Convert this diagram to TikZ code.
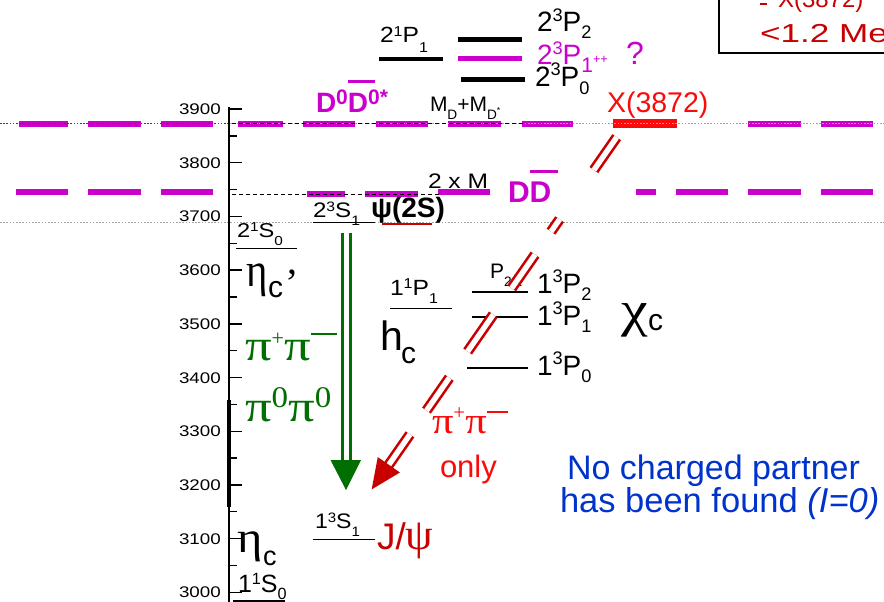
\documentclass[tikz,border=0pt]{standalone}
\usepackage{fontspec}
\setmainfont{Liberation Sans}
\newfontfamily\grk{Liberation Serif}
\usepackage{graphicx}
\usetikzlibrary{calc}
\definecolor{mag}{RGB}{204,0,204}
\definecolor{dgreen}{RGB}{0,110,0}
\definecolor{bred}{RGB}{250,10,10}
\definecolor{dred}{RGB}{200,0,0}
\definecolor{nblue}{RGB}{0,51,204}
\newcommand\myfs[1]{\fontsize{#1}{#1}\selectfont}
\newcommand\sx[2]{\scalebox{#1}[1]{#2}}
\newcommand\su[2][0.3em]{\raisebox{#1}{\scalebox{0.65}{#2}}}
\newcommand\sd[2][-0.45em]{\raisebox{#1}{\scalebox{0.65}{#2}}}
\newcommand\oD[1][1.0em]{\rlap{\raisebox{#1}{\rule{0.95em}{0.1em}}}D}
\begin{document}
\begin{tikzpicture}[x=1pt,y=-1pt,
  lab/.style={anchor=base west,inner sep=0pt,outer sep=0pt},
  magdash/.style={mag,line width=6pt},
  dotl/.style={gray!70,line width=0.9pt,dash pattern=on 1.6pt off 1.6pt},
  dashl/.style={black,line width=0.8pt,dash pattern=on 4pt off 3pt},
  rdbl/.style={draw=dred,double=white,line width=2.6pt,double distance=5.4pt},
  gdbl/.style={draw=dgreen,double=white,line width=3pt,double distance=5pt}]
\useasboundingbox (0,0) rectangle (884,602);
\clip (0,0) rectangle (884,602);
\fill[white] (0,0) rectangle (884,602);

% magenta thresholds
\foreach \a/\b in {19/68,88/141,161/213,238/283,303/355,376/428,448/501,522/573,748/801,821/873}
  \draw[magdash] (\a,123.5) -- (\b,123.5);
\foreach \a/\b in {16/68,88/141,161/213,438/490,636/656,676/728,748/801,821/873}
  \draw[magdash] (\a,192) -- (\b,192);
\foreach \a/\b in {307/345,365/418}
  \draw[magdash] (\a,194) -- (\b,194);
\coordinate (xbl) at (613,123.5);
\coordinate (xbr) at (677,123.5);
\draw[bred,line width=9pt] (xbl) -- (xbr);

% reference lines
\draw[dotl] (0,123) -- (884,123);
\draw[dotl,black!75] (0,123) -- (229,123);
\draw[dashl] (232,123) -- (525,123);
\draw[dashl] (232,194) -- (440,194);
\draw[dotl] (0,222) -- (884,222);

% axis
\draw[line width=1.4pt] (229,107) -- (229,602);
\draw[line width=3.5pt] (229,400) -- (229,507);
\foreach \m in {3000,3100,...,3900}{
  \pgfmathsetmacro\yy{109+(3900-\m)*0.537}
  \draw[line width=1.4pt] (229,\yy) -- (242,\yy);
  \node[anchor=base east,inner sep=0pt] (t\m) at (221,\yy+5.5) {\myfs{15.4}\sx{1.22}{\m}};
}
\foreach \m in {3050,3150,...,3850}{
  \pgfmathsetmacro\yy{109+(3900-\m)*0.537}
  \draw[line width=1.4pt] (229,\yy) -- (237,\yy);
}

% 2P levels
\node[lab] (n21p1) at (380,43) {\myfs{22}\sx{1.12}{2\su[0.28em]{1}P\sd{1}}};
\draw[line width=4.5pt] (379,59) -- (443,59);
\draw[line width=5pt] (458,40) -- (522,40);
\draw[mag,line width=5pt] (458,59) -- (522,59);
\draw[line width=5pt] (461,80) -- (525,80);
\node[lab] (p2) at (537,32) {\myfs{28}2\su[0.38em]{3}P\sd[-0.22em]{2}};
\node[lab,mag] (p1) at (537,65) {\myfs{28}2\su[0.38em]{3}P\raisebox{-0.26em}{\scalebox{0.75}{1}}\raisebox{0.05em}{\scalebox{0.45}{++}}};
\node[lab,mag] (pq) at (626,65) {\myfs{32}?};
\node[lab] (p0) at (535,86) {\myfs{28}2\su[0.38em]{3}P\sd[-0.3em]{0}};

\node[lab,bred] (x3872) at (607,112) {\myfs{28.5}X(3872)};
\node[lab] (mdd) at (430,111) {\myfs{21}M\sd[-0.4em]{D}+M\sd[-0.4em]{D\su[0.4em]{*}}};
\node[lab,mag] (dd0) at (316,113) {\myfs{28}\bfseries D\raisebox{0.3em}{\scalebox{0.75}{0}}\oD[1.07em]\raisebox{0.3em}{\scalebox{0.75}{0*}}};
\node[lab] (twom) at (428,188) {\myfs{21}\sx{1.17}{2 x M}};
\node[lab,mag] (ddbar) at (508,202) {\myfs{30}\bfseries D\oD[0.97em]};

% 2S
\node[lab] (s231) at (313,217) {\myfs{21}\sx{1.15}{2\su[0.28em]{3}S\sd[-0.4em]{1}}};
\draw[line width=1pt] (313,222) -- (375,222);
\node[lab] (psi2s) at (371,217) {\myfs{28}\bfseries ψ(2S)};
\draw[dred,line width=2pt] (382,223.5) -- (432,223.5);
\node[lab] (s210) at (237,237) {\myfs{20}\sx{1.18}{2\su[0.28em]{1}S\sd[-0.4em]{0}}};
\draw[line width=1pt] (236,248) -- (297,248);
\node[lab] (etacp) at (246,286) {\grk\myfs{48}\sx{0.85}{η}};
\node[lab] (etacpc) at (268,297) {\myfs{30}c};
\node[anchor=north west,inner sep=0pt] (etacpp) at (285,270) {\grk\myfs{40}’};

% green transitions
\node[lab,dgreen] (pipmg) at (245,360) {\grk\myfs{44}\sx{1.2}{π}\raisebox{15pt}{\myfs{22}+}\sx{1.2}{π}\rule[25pt]{26pt}{2.5pt}};
\node[lab,dgreen] (pi00) at (245,421) {\grk\myfs{44}\sx{1.2}{π}\raisebox{14pt}{\myfs{30}\sx{1.1}{0}}\sx{1.2}{π}\raisebox{14pt}{\myfs{30}\sx{1.1}{0}}};
\coordinate (gs) at (346,233);
\coordinate (gt) at (346,490);
\draw[gdbl] (gs) -- ($(gt)+(0,-28)$);
\fill[dgreen] (gt) -- ($(gt)+(-15.5,-30)$) -- ($(gt)+(15,-30)$) -- cycle;

% 1P
\node[lab] (p111) at (390,295) {\myfs{22}\sx{1.12}{1\su[0.28em]{1}P\sd[-0.4em]{1}}};
\draw[line width=1pt] (390,308) -- (452,308);
\node[lab] (hc) at (380,350) {\myfs{41}h};
\node[lab] (hcc) at (401,363) {\myfs{30}c};
\draw[line width=2pt] (472,292) -- (528,292);
\draw[line width=2pt] (472,317) -- (528,317);
\draw[line width=1.3pt] (467,368) -- (528,368);
\node[lab] (p132) at (537,293) {\myfs{28}1\su[0.38em]{3}P\sd[-0.25em]{2}};
\node[lab] (p131) at (537,325) {\myfs{28}1\su[0.38em]{3}P\sd[-0.25em]{1}};
\node[lab] (p130) at (537,375) {\myfs{28}1\su[0.38em]{3}P\sd[-0.25em]{0}};
\node[lab] (pfrag) at (490,278) {\myfs{21}P\sd[-0.4em]{2}\hspace{3pt}\sd[-0.4em]{1}};
\node[lab] (chic) at (621,326) {\grk\myfs{50}\sx{1.2}{χ}};
\node[lab] (chicc) at (648,330) {\myfs{30}c};

% red transition
\coordinate (xs) at (616.7,137.2);
\coordinate (xt) at (371.7,489.4);
\foreach \a/\b in {0/0.0932,0.2331/0.2681,0.3333/0.4289,0.5035/0.6084,0.6830/0.7762,0.8438/0.9371}
  \draw[rdbl] ($(xs)!\a!(xt)$) -- ($(xs)!\b!(xt)$);
\fill[dred] (xt) -- ($(xt)!32.9pt!24.2:(xs)$) -- ($(xt)!32.9pt!-24.2:(xs)$) -- cycle;
\node[lab,bred] (pipmr) at (432,433) {\grk\myfs{37}\sx{1.15}{π}\raisebox{14pt}{\myfs{21}+}\sx{1.15}{π}\rule[20pt]{21pt}{2pt}};
\node[lab,bred] (only) at (440,477) {\myfs{31}only};

% 1S
\node[lab] (s131) at (315,528) {\myfs{21}\sx{1.1}{1\su[0.28em]{3}S\sd[-0.4em]{1}}};
\draw[line width=1pt] (313,539) -- (375,539);
\node[lab,dred] (jpsi) at (377,549) {\myfs{37}J/{\grk\myfs{44}ψ}};
\node[lab] (etac) at (237,552) {\grk\myfs{44}\sx{1.1}{η}};
\node[lab] (etacc) at (263,565) {\myfs{27}c};
\node[lab] (s110) at (238,592) {\myfs{25}1\su[0.3em]{1}S\sd[-0.3em]{0}};
\draw[line width=1.2pt] (233,601) -- (285,601);

% note
\node[lab,nblue] (nc1) at (567,479) {\myfs{34}No charged partner};
\node[lab,nblue] (nc2) at (560,512) {\myfs{34.5}has been found \textit{(I=0)}};

% box top right
\draw[line width=1.5pt] (719,-5) -- (719,53) -- (890,53);
\node[lab,dred] (boxx) at (778,8) {\myfs{24}X(3872)};
\draw[dred,line width=2pt] (760,4) -- (767,4);
\node[lab,dred] (boxw) at (760,43) {\myfs{26}\sx{1.35}{<1.2 MeV}};
\end{tikzpicture}
\end{document}
